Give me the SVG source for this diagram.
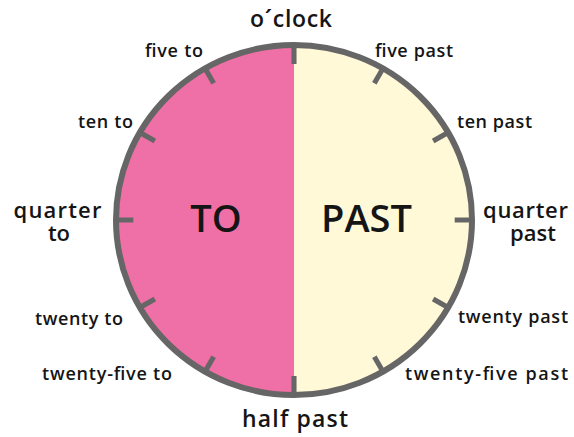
<svg xmlns="http://www.w3.org/2000/svg" width="574" height="437" viewBox="0 0 574 437">
<style>
.t{font-family:"Open Sans","Noto Sans","Liberation Sans",sans-serif;font-weight:600;fill:#151515;text-anchor:middle}
.s{font-size:18px}
.m{font-size:22px}
.l{font-size:23px}
.b{font-size:38px}
.tick{stroke:#666;stroke-width:5}
</style>
<rect width="574" height="437" fill="#fff"/>
<g id="clock">
<path d="M294,45 A178,175 0 0 0 294,395 Z" fill="#EF6FA7"/>
<path d="M294,45 A178,175 0 0 1 294,395 Z" fill="#FFF9D8"/>
<ellipse cx="294" cy="220" rx="178" ry="175" fill="none" stroke="#666" stroke-width="6"/>
<g transform="translate(294,220) scale(1.017,1)">
<line class="tick" x1="0" y1="-174" x2="0" y2="-156"/>
<line class="tick" x1="0" y1="-174" x2="0" y2="-158" transform="rotate(30)"/>
<line class="tick" x1="0" y1="-174" x2="0" y2="-158" transform="rotate(60)"/>
<line class="tick" x1="0" y1="-174" x2="0" y2="-158" transform="rotate(90)"/>
<line class="tick" x1="0" y1="-174" x2="0" y2="-158" transform="rotate(120)"/>
<line class="tick" x1="0" y1="-174" x2="0" y2="-158" transform="rotate(150)"/>
<line class="tick" x1="0" y1="-174" x2="0" y2="-156" transform="rotate(180)"/>
<line class="tick" x1="0" y1="-174" x2="0" y2="-158" transform="rotate(210)"/>
<line class="tick" x1="0" y1="-174" x2="0" y2="-158" transform="rotate(240)"/>
<line class="tick" x1="0" y1="-174" x2="0" y2="-158" transform="rotate(270)"/>
<line class="tick" x1="0" y1="-174" x2="0" y2="-158" transform="rotate(300)"/>
<line class="tick" x1="0" y1="-174" x2="0" y2="-158" transform="rotate(330)"/>
</g>
<text class="t b" x="216" y="232">TO</text>
<text class="t b" x="366.5" y="232">PAST</text>
</g>
<g id="connectors"></g>
<g id="labels">
<text class="t l" x="291" y="27" textLength="82" lengthAdjust="spacing">o´clock</text>
<text class="t s" x="174" y="57" textLength="58" lengthAdjust="spacing">five to</text>
<text class="t s" x="414" y="57" textLength="78" lengthAdjust="spacing">five past</text>
<text class="t s" x="105.5" y="128" textLength="55" lengthAdjust="spacing">ten to</text>
<text class="t s" x="494.5" y="128" textLength="75" lengthAdjust="spacing">ten past</text>
<text class="t m" x="57.5" y="218" textLength="88" lengthAdjust="spacing">quarter</text>
<text class="t m" x="59" y="241">to</text>
<text class="t m" x="525.5" y="218" textLength="85" lengthAdjust="spacing">quarter</text>
<text class="t m" x="533" y="241">past</text>
<text class="t s" x="79" y="325" textLength="88" lengthAdjust="spacing">twenty to</text>
<text class="t s" x="107" y="380" textLength="130" lengthAdjust="spacing">twenty-five to</text>
<text class="t s" x="513" y="323" textLength="110" lengthAdjust="spacing">twenty past</text>
<text class="t s" x="486.5" y="380" textLength="163" lengthAdjust="spacing">twenty-five past</text>
<text class="t l" x="295" y="427" textLength="106" lengthAdjust="spacing">half past</text>
</g>
</svg>
